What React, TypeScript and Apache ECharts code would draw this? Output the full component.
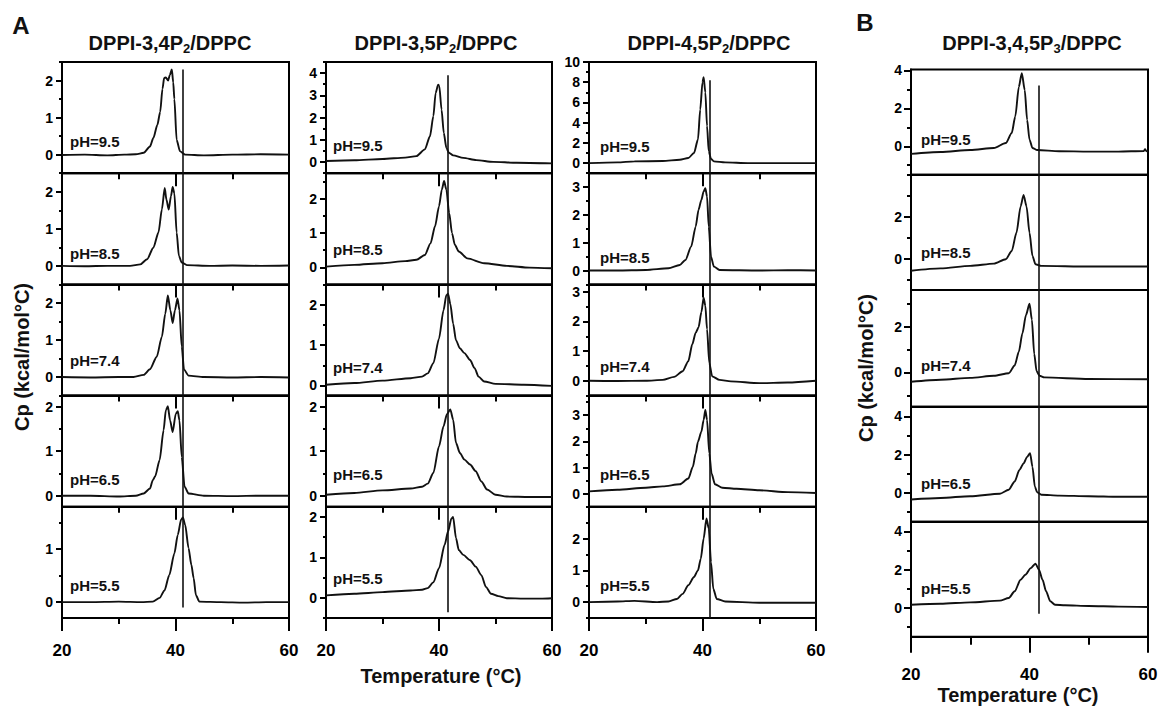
import React, { useEffect, useRef } from "react";
import * as echarts from "echarts";

// ---------- DATA (temperature °C, Cp kcal/mol°C) ----------
const phLabels = ["pH=9.5", "pH=8.5", "pH=7.4", "pH=6.5", "pH=5.5"];
const titles = ["DPPI-3,4P{s|2}/DPPC", "DPPI-3,5P{s|2}/DPPC", "DPPI-4,5P{s|2}/DPPC", "DPPI-3,4,5P{s|3}/DPPC"];
const xTicks = [20, 40, 60];

// DPPI-3,4P2/DPPC
const c1_95 = [[20,-0.01],[24,0],[28,-0.02],[31,0],[33,0.01],[34.4,0.05],[35.5,0.22],[36.1,0.45],[36.8,0.8],[37.3,1.15],[37.7,1.77],[38.0,2.07],[38.3,2.08],[38.7,2.0],[39.0,2.15],[39.35,2.3],[39.6,1.95],[39.8,1.5],[40.2,0.4],[40.8,0.09],[41.7,0],[45,-0.02],[50,0],[55,0.01],[60,0]];
const c1_85 = [[20,0],[24,-0.01],[28,0],[32,0],[33.8,0.04],[35,0.18],[36.1,0.49],[37,0.9],[37.6,1.52],[38.1,2.1],[38.4,1.79],[38.8,1.52],[39.2,1.88],[39.5,2.13],[39.8,1.96],[40.2,0.9],[40.6,0.27],[41.1,0.09],[42,0.02],[46,0],[50,0.01],[55,0],[60,0.01]];
const c1_74 = [[20,0],[25,-0.01],[30,0],[32.6,0],[34.4,0.06],[35.5,0.21],[36.7,0.55],[37.6,1.09],[38.2,1.71],[38.65,2.2],[39.1,1.8],[39.5,1.46],[39.9,1.8],[40.35,2.12],[40.7,1.8],[41.1,0.82],[41.5,0.2],[42.3,0.04],[45,0],[50,-0.01],[55,0],[60,-0.01]];
const c1_65 = [[20,0],[25,0],[30,-0.02],[33,0],[34.4,0.05],[35.5,0.16],[36,0.35],[36.4,0.43],[37.2,0.8],[37.9,1.47],[38.3,1.92],[38.65,2.01],[39.05,1.69],[39.5,1.43],[40.05,1.84],[40.4,1.9],[40.7,1.69],[41.1,0.87],[41.6,0.2],[42.3,0.05],[45,0],[50,-0.01],[55,0],[60,0]];
const c1_55 = [[20,0],[25,0],[30,0.01],[34,0],[36,0.01],[37.2,0.08],[38.06,0.22],[38.9,0.51],[39.8,0.92],[40.4,1.27],[41,1.56],[41.3,1.6],[41.7,1.46],[42.3,1.02],[42.8,0.7],[43.2,0.45],[43.6,0.13],[44.2,0.01],[48,0],[52,-0.01],[56,0],[60,0]];

// DPPI-3,5P2/DPPC
const c2_95 = [[20,0.05],[25,0.08],[30,0.14],[34,0.2],[36,0.27],[37.5,0.57],[38.4,1.16],[39,2.06],[39.4,3.1],[39.85,3.48],[40.05,3.42],[40.45,2.36],[40.85,1.31],[41.3,0.64],[41.75,0.42],[42.5,0.3],[44.3,0.19],[46.6,0.09],[49.6,0.01],[53.7,-0.03],[60,-0.06]];
const c2_85 = [[20,0.02],[25,0.07],[30,0.12],[34,0.18],[36,0.22],[37.5,0.36],[38.5,0.7],[39.3,1.2],[40,1.78],[40.5,2.27],[40.9,2.52],[41.3,2.27],[41.8,1.59],[42.3,1.0],[42.8,0.66],[43.5,0.46],[45,0.26],[48,0.12],[52,0.04],[56,-0.01],[60,-0.03]];
const c2_74 = [[20,0.02],[25,0.06],[30,0.12],[35,0.18],[37,0.22],[38,0.3],[39,0.55],[40,1.16],[40.8,1.86],[41.3,2.23],[41.6,2.27],[42,2.02],[42.5,1.53],[43,1.12],[43.7,0.92],[44.5,0.8],[45.5,0.63],[46.3,0.43],[47,0.22],[48,0.1],[50,0.04],[55,0.02],[60,-0.01]];
const c2_65 = [[20,0.02],[25,0.06],[30,0.12],[35,0.16],[37,0.2],[38,0.27],[39,0.51],[40,1.11],[40.8,1.56],[41.4,1.83],[42,1.94],[42.5,1.71],[43,1.19],[43.7,0.96],[44.5,0.81],[45.5,0.7],[46.5,0.55],[47.5,0.32],[48.5,0.14],[50,0.02],[52,-0.02],[56,-0.03],[60,-0.03]];
const c2_55 = [[20,0.06],[25,0.1],[30,0.14],[35,0.18],[37,0.2],[38,0.24],[39,0.38],[40,0.73],[41,1.31],[41.6,1.64],[42.2,1.96],[42.5,2.0],[43,1.48],[43.5,1.18],[44.3,1.06],[45.5,0.93],[46.5,0.77],[47.5,0.56],[48.3,0.27],[49.2,0.1],[50.5,0.04],[52,-0.01],[55,-0.02],[58,-0.02],[60,-0.01]];

// DPPI-4,5P2/DPPC
const c3_95 = [[20,0],[25,0.07],[28,0.17],[33,0.2],[36,0.33],[37.5,0.5],[38.5,1.0],[39.2,2.33],[39.6,5.3],[40,8.0],[40.2,8.5],[40.5,7.0],[40.8,3.67],[41.1,1.17],[41.5,0.4],[42,0.17],[44,0.07],[48,0],[54,0],[60,0]];
const c3_85 = [[20,0],[25,0],[30,0.02],[34,0.08],[36,0.2],[37,0.38],[38,0.86],[38.8,1.58],[39.3,2.18],[39.8,2.54],[40.2,2.84],[40.5,2.96],[40.8,2.66],[41.1,1.58],[41.5,0.5],[42,0.14],[43,0.02],[50,0],[55,0.01],[60,0]];
const c3_74 = [[20,0],[25,-0.01],[30,0],[33,0.03],[35,0.13],[36.5,0.32],[37.5,0.66],[38.2,1.23],[38.8,1.62],[39.3,1.8],[39.8,2.31],[40.2,2.8],[40.5,2.53],[40.8,1.74],[41.2,0.6],[41.7,0.15],[43,0.03],[45,-0.02],[50,-0.08],[55,-0.06],[60,0]];
const c3_65 = [[20,0.09],[25,0.15],[30,0.23],[33,0.28],[36,0.36],[37.5,0.58],[38.3,1.03],[38.8,1.54],[39.2,1.99],[39.8,2.37],[40.2,2.82],[40.5,3.2],[40.8,2.82],[41.2,1.54],[41.6,0.77],[42.2,0.36],[43.5,0.23],[46,0.19],[50,0.13],[55,0.06],[60,0.03]];
const c3_55 = [[20,0],[25,0.02],[28,0.04],[32,0],[34,0.02],[35.5,0.1],[36.5,0.26],[37.5,0.53],[38.5,0.79],[39.2,1.0],[39.7,1.37],[40.2,2.0],[40.7,2.63],[41.1,2.32],[41.5,1.26],[41.9,0.42],[42.5,0.1],[44,0.02],[50,-0.02],[60,-0.02]];

// DPPI-3,4,5P3/DPPC
const c4_95 = [[20,-0.4],[25,-0.3],[30,-0.2],[34,-0.09],[36,0.17],[37,0.7],[37.6,1.57],[38.2,3.13],[38.7,3.86],[39.2,2.96],[39.6,1.39],[40,0.35],[40.5,-0.09],[41.3,-0.2],[45,-0.26],[50,-0.28],[55,-0.28],[59.3,-0.25],[59.5,-0.15],[59.7,-0.25],[60,-0.28]];
const c4_85 = [[20,-0.58],[25,-0.47],[30,-0.35],[34,-0.24],[36,-0.03],[37,0.36],[37.8,1.23],[38.5,2.49],[39,3.04],[39.5,2.49],[40,1.23],[40.5,0.13],[41,-0.27],[42,-0.35],[50,-0.38],[60,-0.38]];
const c4_74 = [[20,-0.41],[25,-0.32],[30,-0.24],[34,-0.15],[36.5,-0.04],[37.5,0.3],[38.2,0.9],[38.8,1.7],[39.4,2.5],[40,3.0],[40.4,2.3],[40.8,0.8],[41.2,0.05],[41.7,-0.15],[42.5,-0.22],[50,-0.29],[60,-0.3]];
const c4_65 = [[20,-0.34],[25,-0.26],[30,-0.17],[35,-0.04],[36.5,0.17],[37.5,0.6],[38.3,1.2],[39,1.54],[39.6,1.88],[40.1,2.08],[40.5,1.36],[40.9,0.34],[41.3,0.03],[42,-0.09],[45,-0.14],[50,-0.17],[55,-0.2],[60,-0.2]];
const c4_55 = [[20,0.17],[25,0.22],[30,0.29],[35,0.38],[36.5,0.52],[37.5,0.87],[38.5,1.47],[39.3,1.73],[40.2,2.08],[41,2.31],[41.6,2.0],[42.2,1.47],[42.8,0.87],[43.5,0.35],[44.3,0.17],[46,0.14],[50,0.1],[55,0.07],[60,0.05]];

const col1Series = [c1_95, c1_85, c1_74, c1_65, c1_55];
const col2Series = [c2_95, c2_85, c2_74, c2_65, c2_55];
const col3Series = [c3_95, c3_85, c3_74, c3_65, c3_55];
const col4Series = [c4_95, c4_85, c4_74, c4_65, c4_55];

// y-axis ranges per panel
const col1Range = [[-0.5, 2.5], [-0.5, 2.5], [-0.5, 2.5], [-0.25, 2.25], [-0.3, 1.8]];
const col2Range = [[-0.5, 4.5], [-0.5, 2.75], [-0.25, 2.5], [-0.25, 2.25], [-0.5, 2.25]];
const col3Range = [[-1, 10], [-0.5, 3.5], [-0.5, 3.25], [-0.5, 3.75], [-0.5, 3]];
const col4Range = [[-1.5, 4.05], [-1.5, 4], [-1.5, 3.6], [-1.5, 4.5], [-1.5, 4.5]];

// y tick labels per panel
const col1Labels = [[0, 1, 2], [0, 1, 2], [0, 1, 2], [0, 1, 2], [0, 1]];
const col2Labels = [[0, 1, 2, 3, 4], [0, 1, 2], [0, 1, 2], [0, 1, 2], [0, 1, 2]];
const col3Labels = [[0, 2, 4, 6, 8, 10], [0, 1, 2, 3], [0, 1, 2, 3], [0, 1, 2, 3], [0, 1, 2]];
const col4Labels = [[0, 2, 4], [0, 2], [0, 2], [0, 2, 4], [0, 2, 4]];
const col1Minor = [0.5, 0.5, 0.5, 0.5, 0.5];
const col2Minor = [0.5, 0.5, 0.5, 0.5, 0.5];
const col3Minor = [1, 0.5, 0.5, 0.5, 0.5];
const col4Minor = [1, 1, 1, 1, 1];

// vertical reference line: temperature, start value (top panel), end value (bottom panel)
const refT = [41.3, 41.5, 41.2, 41.6];
const refTop = [2.3, 3.9, 8.2, 3.2];
const refBottom = [-0.1, -0.36, -0.5, -0.3];

// ---------- LAYOUT ----------
const FONT = '"Liberation Sans", Arial, Helvetica, sans-serif';
const A_TOPS = [62, 173.2, 284.4, 395.6, 506.8];
const A_H = [111.2, 111.2, 111.2, 111.2, 111.2];
const B_TOPS = [69.5, 174.7, 290, 406.7, 521.7];
const B_H = [105.2, 115.3, 116.7, 115, 115];

const COLS = [
  { left: 62, width: 227, tops: A_TOPS, heights: A_H, data: col1Series, range: col1Range, labels: col1Labels, minor: col1Minor, phDx: 8, phDy: [79, 80, 76, 84, 79], titleX: 170, B: false },
  { left: 326, width: 226, tops: A_TOPS, heights: A_H, data: col2Series, range: col2Range, labels: col2Labels, minor: col2Minor, phDx: 7, phDy: [83, 76, 83, 79, 72], titleX: 436, B: false },
  { left: 589, width: 227, tops: A_TOPS, heights: A_H, data: col3Series, range: col3Range, labels: col3Labels, minor: col3Minor, phDx: 11, phDy: [84, 84, 82, 79, 79], titleX: 709, B: false },
  { left: 911, width: 237, tops: B_TOPS, heights: B_H, data: col4Series, range: col4Range, labels: col4Labels, minor: col4Minor, phDx: 10, phDy: [70, 78, 75, 77, 67], titleX: 1032, B: true },
];

function stepValues(min: number, max: number, step: number) {
  const out: number[] = [];
  const start = Math.ceil(min / step - 1e-9);
  const end = Math.floor(max / step + 1e-9);
  for (let i = start; i <= end; i++) out.push(+(i * step).toFixed(4));
  return out;
}

function buildOption() {
  const grid: any[] = [];
  const xAxis: any[] = [];
  const yAxis: any[] = [];
  const series: any[] = [];
  const graphic: any[] = [];
  const black = "#000";
  let gi = 0;
  COLS.forEach((col, ci) => {
    for (let r = 0; r < 5; r++) {
      const isBottom = r === 4;
      const [ymin, ymax] = col.range[r];
      grid.push({
        left: col.left, top: col.tops[r], width: col.width, height: col.heights[r],
        show: true, borderColor: black, borderWidth: 2, backgroundColor: "transparent", containLabel: false,
      });
      const showX = !col.B || isBottom;
      xAxis.push({
        type: "value", gridIndex: gi, min: 20, max: 60, interval: 20, position: "bottom",
        axisLine: { show: true, onZero: false, lineStyle: { color: black, width: 2 } },
        axisTick: { show: showX, inside: false, length: col.B ? 16 : 13, lineStyle: { color: black, width: 2 } },
        minorTick: { show: showX, splitNumber: 2, length: col.B ? 8 : 6, lineStyle: { color: black, width: 2 } },
        axisLabel: { show: isBottom, margin: col.B ? 29 : 24, fontSize: 17, fontWeight: "bold", color: black, fontFamily: FONT, customValues: xTicks },
        splitLine: { show: false }, minorSplitLine: { show: false },
      });
      const majors = col.labels[r];
      const minors = stepValues(ymin, ymax, col.minor[r]);
      yAxis.push({
        type: "value", gridIndex: gi, min: ymin, max: ymax, position: "left",
        axisLine: { show: true, onZero: false, lineStyle: { color: black, width: 2 } },
        axisTick: { show: true, inside: false, length: col.B ? 7 : 6, customValues: majors, lineStyle: { color: black, width: 2 } },
        axisLabel: { show: true, margin: 9, customValues: majors, fontSize: 14, fontWeight: "bold", color: black, fontFamily: FONT },
        splitLine: { show: false },
      });
      yAxis.push({
        type: "value", gridIndex: gi, min: ymin, max: ymax, position: "left",
        axisLine: { show: false },
        axisTick: { show: true, inside: false, length: col.B ? 4 : 3, customValues: minors, lineStyle: { color: black, width: 2 } },
        axisLabel: { show: false },
        splitLine: { show: false },
      });
      const top = r === 0 ? refTop[ci] : ymax;
      const bot = r === 4 ? refBottom[ci] : ymin;
      series.push({
        type: "line", xAxisIndex: gi, yAxisIndex: 2 * gi,
        data: col.data[r], showSymbol: false, symbol: "none",
        smooth: 0.25, smoothMonotone: "x",
        lineStyle: { color: "#111", width: 1.9 },
        silent: true,
        markLine: {
          silent: true, symbol: ["none", "none"], label: { show: false },
          lineStyle: { color: "#111", width: 1.6, type: "solid" },
          data: [[{ coord: [refT[ci], top] }, { coord: [refT[ci], bot] }]],
        },
      });
      graphic.push({
        type: "text", x: col.left + col.phDx, y: col.tops[r] + col.phDy[r],
        style: { text: phLabels[r], fontSize: 15, fontWeight: "bold", fontFamily: FONT, fill: "#111", align: "left", verticalAlign: "middle" },
      });
      gi++;
    }
    graphic.push({
      type: "text", x: col.titleX, y: 43,
      style: {
        text: titles[ci], fontSize: 20, fontWeight: "bold", fontFamily: FONT, fill: "#111",
        align: "center", verticalAlign: "middle", lineHeight: 24,
        rich: { s: { fontSize: 13, fontWeight: "bold", fontFamily: FONT, fill: "#111", verticalAlign: "bottom", lineHeight: 13 } },
      },
    });
  });
  // panel letters
  graphic.push({ type: "text", x: 21, y: 25, style: { text: "A", fontSize: 24, fontWeight: "bold", fontFamily: FONT, fill: "#111", align: "center", verticalAlign: "middle" } });
  graphic.push({ type: "text", x: 865, y: 22, style: { text: "B", fontSize: 24, fontWeight: "bold", fontFamily: FONT, fill: "#111", align: "center", verticalAlign: "middle" } });
  // axis titles
  const cp = "Cp (kcal/mol\u00B0C)";
  graphic.push({ type: "text", x: 22, y: 357, rotation: Math.PI / 2, style: { text: cp, fontSize: 20, fontWeight: "bold", fontFamily: FONT, fill: "#111", align: "center", verticalAlign: "middle" } });
  graphic.push({ type: "text", x: 866, y: 368, rotation: Math.PI / 2, style: { text: cp, fontSize: 20, fontWeight: "bold", fontFamily: FONT, fill: "#111", align: "center", verticalAlign: "middle" } });
  const tl = "Temperature (\u00B0C)";
  graphic.push({ type: "text", x: 441, y: 676, style: { text: tl, fontSize: 20, fontWeight: "bold", fontFamily: FONT, fill: "#111", align: "center", verticalAlign: "middle" } });
  graphic.push({ type: "text", x: 1018, y: 695, style: { text: tl, fontSize: 20, fontWeight: "bold", fontFamily: FONT, fill: "#111", align: "center", verticalAlign: "middle" } });

  return { animation: false, backgroundColor: "#fff", grid, xAxis, yAxis, series, graphic };
}

export default function App() {
  const ref = useRef<HTMLDivElement>(null);
  useEffect(() => {
    if (!ref.current) return;
    const chart = echarts.init(ref.current, undefined, { renderer: "svg" });
    chart.setOption(buildOption() as any);
    return () => chart.dispose();
  }, []);
  return <div ref={ref} style={{ position: "absolute", left: 0, top: 0, width: 1161, height: 706 }} />;
}
